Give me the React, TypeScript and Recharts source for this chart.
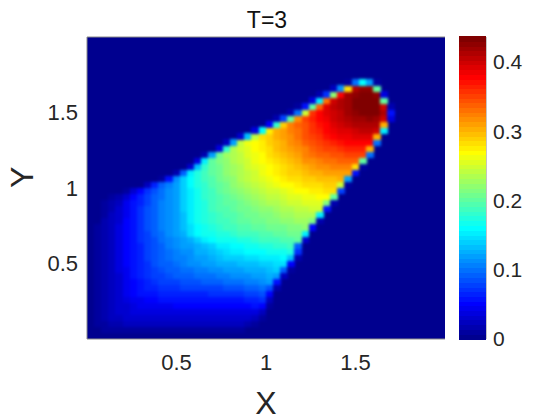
import { ScatterChart, Scatter, XAxis, YAxis, ReferenceArea, ReferenceLine } from 'recharts';

const FONT = '"Liberation Sans", Arial, sans-serif';
const TEXT_COLOR = '#262626';
const BORDER_COLOR = '#8a8a8a';
const MAX_VALUE = 0.436;

const xTicks = [0.5, 1, 1.5];
const yTicks = [0.5, 1, 1.5];
const colorbarTicks = [0, 0.1, 0.2, 0.3, 0.4];

// cell centres of the grid, step 0.04
const columnCentres = [
  0.02, 0.06, 0.1, 0.14, 0.18, 0.22, 0.26, 0.3, 0.34, 0.38, 0.42, 0.46, 0.5, 0.54, 0.58, 0.62, 0.66, 0.7, 0.74, 0.78, 0.82, 0.86,
  0.9, 0.94, 0.98, 1.02, 1.06, 1.1, 1.14, 1.18, 1.22, 1.26, 1.3, 1.34, 1.38, 1.42, 1.46, 1.5, 1.54, 1.58, 1.62, 1.66, 1.7,
];
const rowCentres = [
  0.06, 0.1, 0.14, 0.18, 0.22, 0.26, 0.3, 0.34, 0.38, 0.42, 0.46, 0.5, 0.54, 0.58, 0.62, 0.66, 0.7, 0.74, 0.78, 0.82, 0.86, 0.9,
  0.94, 0.98, 1.02, 1.06, 1.1, 1.14, 1.18, 1.22, 1.26, 1.3, 1.34, 1.38, 1.42, 1.46, 1.5, 1.54, 1.58, 1.62, 1.66, 1.7,
];
// first non-zero column of each row
const firstColumns = [
  0, 0, 0, 0, 0, 0, 0, 0, 0, 0, 0, 0, 0, 0, 0, 0, 0, 0, 0, 0, 0, 0,
  1, 4, 7, 10, 12, 14, 15, 16, 18, 19, 21, 23, 25, 26, 28, 29, 30, 32, 33, 36,
];
// values in thousandths, bottom row first
const fieldRows = [
  [1,6,9,12,13,13,13,13,13,13,13,13,13,13,13,13,13,13,13,13,13,10,6,2],
  [1,7,13,17,20,22,22,22,22,22,22,22,22,22,22,22,22,22,22,22,22,22,19,12,3],
  [1,8,15,21,25,28,30,30,30,30,30,30,30,30,30,30,30,30,30,30,30,30,30,26,10,1],
  [1,8,16,24,29,33,36,38,38,38,38,38,38,38,38,38,38,38,38,38,38,38,38,38,22,4],
  [1,8,15,23,29,33,38,42,43,45,46,47,48,48,49,49,49,50,50,50,50,50,52,56,48,10],
  [1,8,16,24,31,38,44,47,52,54,55,57,58,58,59,59,59,59,60,60,60,60,62,66,70,25,2],
  [1,8,16,24,32,42,50,55,59,60,63,64,66,67,67,68,68,69,69,70,70,72,75,80,85,50,6],
  [1,8,16,24,33,43,52,59,63,67,69,72,73,75,76,78,79,80,81,84,85,87,90,94,100,88,15],
  [1,8,16,25,33,45,54,60,67,71,75,78,81,84,85,88,90,92,94,97,98,100,103,107,112,118,60,5],
  [1,8,16,25,34,46,55,63,69,75,81,86,89,91,93,96,99,102,105,108,109,111,113,116,120,125,122,25,2],
  [1,8,16,25,35,47,57,65,72,80,85,89,95,98,101,104,108,111,114,118,119,121,123,126,129,133,138,95,10],
  [1,8,16,25,35,48,58,66,73,82,89,95,99,105,109,113,117,121,124,127,128,130,132,135,138,142,146,148,50,4],
  [1,8,16,25,35,48,58,66,75,84,91,98,105,108,113,117,122,128,134,140,141,143,145,147,150,153,156,160,130,20],
  [1,8,16,25,35,49,59,67,76,85,93,100,106,113,115,123,127,132,140,148,155,156,157,159,162,164,167,170,173,70,4],
  [1,8,16,25,35,49,59,68,78,87,95,103,110,116,121,125,133,142,150,156,160,162,165,168,172,175,178,181,185,90],
  [1,8,16,25,35,49,59,69,79,88,97,105,112,119,127,138,150,160,164,166,169,172,176,180,184,187,190,194,197,200,30],
  [1,8,16,25,35,49,59,70,81,91,100,110,118,128,145,157,165,170,174,177,180,184,187,190,194,197,200,203,206,209,150,5],
  [1,7,15,24,35,49,59,70,82,93,103,113,121,133,149,162,170,175,180,184,187,191,195,198,202,205,208,211,214,216,218,50],
  [1,6,14,23,34,48,59,70,82,93,103,113,122,135,151,164,173,179,185,190,195,199,203,207,210,214,217,220,223,226,228,215,20],
  [1,5,12,21,32,47,58,70,82,93,103,113,122,136,152,165,175,182,188,193,197,201,205,209,213,217,221,225,228,232,234,237,150,5],
  [1,4,11,19,30,45,57,69,82,93,103,113,122,137,153,166,176,184,191,196,200,205,210,214,219,223,228,232,236,240,243,246,249,60],
  [0,3,8,16,26,41,55,68,81,93,103,113,122,137,153,167,177,186,193,199,204,210,216,221,227,232,237,242,246,250,253,256,258,215,15],
  [1,3,8,18,32,48,62,78,90,101,112,122,138,154,168,179,188,196,203,209,216,224,229,235,240,245,250,254,258,261,264,267,269,200],
  [3,10,28,50,70,88,100,111,122,138,156,170,181,190,199,207,214,222,231,236,242,247,252,257,261,267,271,275,278,280,281,80],
  [5,25,65,92,108,122,140,158,172,183,193,202,211,219,227,235,240,248,254,260,266,271,277,281,284,286,288,290,250,10],
  [10,60,115,142,160,174,185,196,205,214,224,232,240,246,254,260,267,274,280,285,289,292,295,297,299,301,120],
  [15,90,150,176,188,199,208,218,228,236,244,252,260,266,274,281,287,292,297,301,306,308,311,312,313,60],
  [30,130,180,200,210,220,230,238,247,256,264,271,279,286,292,299,305,310,315,318,321,323,325,280,8],
  [40,150,200,212,222,232,241,250,259,267,275,283,291,298,306,314,320,325,329,333,335,337,338,200],
  [20,120,205,225,235,244,254,263,272,280,289,297,305,313,321,329,335,340,344,347,349,351,351,100],
  [40,180,238,248,258,267,276,285,293,300,309,318,326,335,344,350,354,359,362,366,367,300,5],
  [25,120,240,260,270,279,288,297,306,315,324,334,344,352,359,366,371,375,379,380,380,100],
  [30,130,240,281,290,300,309,319,330,341,352,360,368,377,383,387,390,392,392,300,5],
  [40,160,275,303,312,323,333,345,356,367,376,384,391,395,400,402,402,400,150],
  [50,180,290,326,336,347,359,372,381,390,398,405,412,414,415,414,300,3],
  [15,80,200,320,350,362,375,386,396,405,413,420,422,423,422,400,40],
  [20,100,250,360,378,390,399,408,418,428,430,432,431,415,60],
  [10,60,200,340,392,402,411,420,430,434,436,434,400,15],
  [5,40,150,330,400,410,420,430,435,436,435,200],
  [15,70,220,380,420,428,433,435,425,40],
  [5,25,110,280,410,425,425,200],
  [10,100,160,120,10],
];
const colorbarLevels = [
  0.003, 0.01, 0.017, 0.024, 0.031, 0.037, 0.044, 0.051, 0.058, 0.065, 0.072, 0.078, 0.085, 0.092, 0.099, 0.106,
  0.113, 0.119, 0.126, 0.133, 0.14, 0.147, 0.153, 0.16, 0.167, 0.174, 0.181, 0.187, 0.194, 0.201, 0.208, 0.215,
  0.221, 0.228, 0.235, 0.242, 0.249, 0.255, 0.262, 0.269, 0.276, 0.283, 0.29, 0.296, 0.303, 0.31, 0.317, 0.324,
  0.33, 0.337, 0.344, 0.351, 0.358, 0.365, 0.371, 0.378, 0.385, 0.392, 0.399, 0.405, 0.412, 0.419, 0.426, 0.433,
];

// cells in the lowest colour step look the same as the background
const heatData = fieldRows
  .flatMap((row, r) =>
    row.map((v, i) => ({ x: columnCentres[firstColumns[r] + i], y: rowCentres[r], value: v / 1000 }))
  )
  .filter(d => d.value >= 0.007);
const colorbarData = colorbarLevels.map(value => ({ x: 0.5, y: value, value }));

// 64 step jet, same as the colormap in the picture
function jet(value: number) {
  const i = Math.min(63, Math.max(0, Math.floor((value / MAX_VALUE) * 64)));
  const t = (i + 1) / 64;
  const clamp = (c: number) => Math.round(Math.min(1, Math.max(0, c)) * 255);
  const r = clamp(Math.min(4 * t - 1.5, 4.5 - 4 * t));
  const g = clamp(Math.min(4 * t - 0.5, 3.5 - 4 * t));
  const b = clamp(Math.min(4 * t + 0.5, 2.5 - 4 * t));
  return `rgb(${r},${g},${b})`;
}

function cellShape(width: number, height: number) {
  return (props: any) => (
    <rect
      x={props.cx - width / 2}
      y={props.cy - height / 2}
      width={width}
      height={height}
      fill={jet(props.payload.value)}
      shapeRendering="crispEdges"
    />
  );
}

const tickStyle = { fontSize: 22, fontFamily: FONT, fill: TEXT_COLOR };

export default function App() {
  return (
    <div style={{ position: 'absolute', left: 0, top: 0, width: 560, height: 420, background: '#fff' }}>
      {/* soften the grid steps, the original is a much finer mesh */}
      <style>{'.heat-cells { filter: blur(1.7px); }'}</style>
      <div style={{ position: 'absolute', left: 0, top: 0 }}>
        <ScatterChart width={460} height={420} margin={{ top: 37, right: 15, bottom: 0, left: 0 }}>
          <XAxis
            type="number"
            dataKey="x"
            domain={[0, 2]}
            ticks={xTicks}
            interval={0}
            height={81}
            tick={tickStyle}
            tickLine={false}
            tickMargin={9}
            stroke={BORDER_COLOR}
            label={{ value: 'X', position: 'insideBottom', offset: 6, fontSize: 32, fontFamily: FONT, fill: TEXT_COLOR }}
          />
          <YAxis
            type="number"
            dataKey="y"
            domain={[0, 2]}
            ticks={yTicks}
            interval={0}
            width={87}
            tick={tickStyle}
            tickLine={false}
            tickMargin={3}
            stroke={BORDER_COLOR}
            label={{ value: 'Y', angle: -90, position: 'insideLeft', offset: 22, fontSize: 32, fontFamily: FONT, fill: TEXT_COLOR }}
          />
          <ReferenceArea x1={0} x2={2} y1={0} y2={2} fill="#00008F" fillOpacity={1} stroke="none" />
          <Scatter className="heat-cells" data={heatData} isAnimationActive={false} shape={cellShape(7.7, 6.5)} />
          <ReferenceLine y={2} stroke={BORDER_COLOR} />
          <text x={267} y={28} textAnchor="middle" fontSize={23} fontFamily={FONT} fill="#111">T=3</text>
        </ScatterChart>
      </div>
      <div style={{ position: 'absolute', left: 459, top: 0 }}>
        <ScatterChart width={101} height={420} margin={{ top: 37, right: 0, bottom: 81, left: 0 }}>
          <XAxis type="number" dataKey="x" domain={[0, 1]} hide />
          <YAxis
            type="number"
            dataKey="y"
            orientation="right"
            domain={[0, MAX_VALUE]}
            ticks={colorbarTicks}
            interval={0}
            width={74}
            tick={{ ...tickStyle, fontSize: 21 }}
            tickSize={-3}
            tickMargin={10}
            axisLine={false}
            stroke="#333"
          />
          <Scatter data={colorbarData} isAnimationActive={false} shape={cellShape(27, 5.4)} />
          <ReferenceArea x1={0} x2={1} y1={0} y2={MAX_VALUE} fill="none" stroke={BORDER_COLOR} />
        </ScatterChart>
      </div>
    </div>
  );
}
